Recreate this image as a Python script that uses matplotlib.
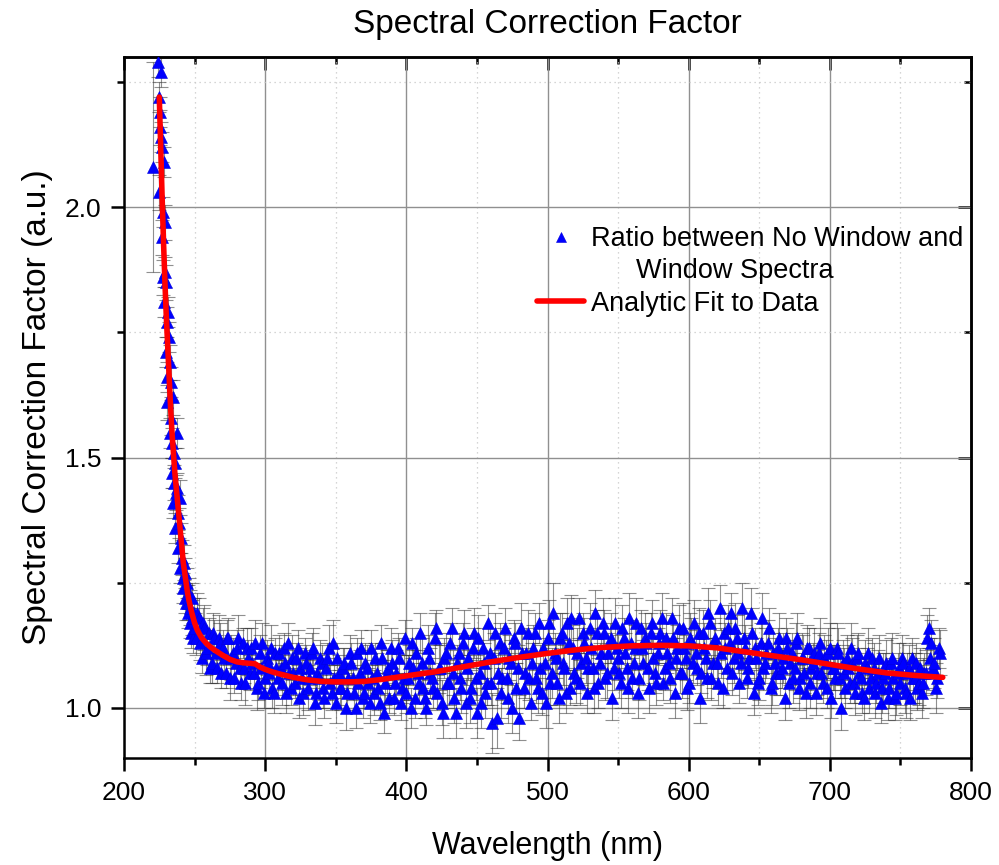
import matplotlib
matplotlib.use('Agg')
import matplotlib.pyplot as plt
import numpy as np
from matplotlib.lines import Line2D
from matplotlib.ticker import MultipleLocator, FormatStrFormatter

plt.rcParams['font.family'] = ['Liberation Sans', 'DejaVu Sans']

# ---------------- data ----------------
steep_wl = [220.8, 224.3, 224.8, 225.0, 225.5, 225.8, 226.0, 226.4, 226.7, 227.0,
            227.4, 227.8, 228.3, 228.6, 229.0, 229.3, 229.6, 229.8, 230.2, 230.5,
            230.8, 231.4, 231.8, 232.3, 232.6, 233.0, 233.5, 233.8, 234.2, 234.6,
            234.9, 235.3, 235.7, 236.1, 236.4, 236.8, 237.3, 237.6, 238.0, 238.5,
            239.0, 239.7, 240.0, 240.5, 241.0, 241.5, 242.0, 242.5, 243.0, 243.5,
            244.0, 244.5, 245.0, 245.5, 246.0, 246.5, 247.0, 247.5, 248.0, 248.5,
            249.0, 249.5]
steep_ratio = [2.08, 2.29, 2.22, 2.03, 2.19, 2.16, 2.27, 2.14, 1.94, 2.12,
               1.99, 1.86, 2.09, 1.81, 1.97, 1.87, 1.71, 1.85, 1.77, 1.66,
               1.61, 1.79, 1.74, 1.69, 1.55, 1.65, 1.58, 1.47, 1.53, 1.62,
               1.41, 1.51, 1.45, 1.49, 1.36, 1.43, 1.55, 1.44, 1.39, 1.32,
               1.37, 1.42, 1.28, 1.34, 1.30, 1.26, 1.24, 1.29, 1.22, 1.27,
               1.21, 1.25, 1.19, 1.21, 1.23, 1.17, 1.20, 1.15, 1.22, 1.18,
               1.14, 1.19]
steep_err = [0.21, 0.03, 0.03, 0.035, 0.03, 0.035, 0.03, 0.03, 0.035, 0.03,
             0.03, 0.035, 0.03, 0.03, 0.035, 0.03, 0.03, 0.035, 0.03, 0.03,
             0.035, 0.03, 0.03, 0.035, 0.03, 0.03, 0.035, 0.03, 0.03, 0.035,
             0.03, 0.03, 0.035, 0.03, 0.03, 0.035, 0.03, 0.03, 0.035, 0.03,
             0.03, 0.035, 0.03, 0.03, 0.035, 0.03, 0.03, 0.035, 0.03, 0.03,
             0.035, 0.03, 0.03, 0.035, 0.03, 0.03, 0.035, 0.03, 0.03, 0.035,
             0.03, 0.03]

# even wavelengths 250 ... 778 nm
even_wl = np.arange(250, 780, 2)
even_ratio = [
    1.16, 1.19, 1.13, 1.17, 1.11, 1.15, 1.09, 1.14, 1.08, 1.13,
    1.12, 1.07, 1.14, 1.10, 1.06, 1.12, 1.08, 1.13, 1.05, 1.10,
    1.12, 1.07, 1.04, 1.11, 1.13, 1.06, 1.09, 1.12, 1.03, 1.08,
    1.11, 1.05, 1.09, 1.13, 1.04, 1.07, 1.10, 1.02, 1.06, 1.11,
    1.04, 1.08, 1.12, 1.03, 1.06, 1.09, 1.02, 1.10, 1.05, 1.13,
    1.01, 1.07, 1.04, 1.09, 1.03, 1.11, 1.06, 1.00, 1.05, 1.12,
    1.03, 1.08, 1.01, 1.06, 1.10, 1.04, 1.13, 0.99, 1.07, 1.02,
    1.09, 1.05, 1.12, 1.01, 1.06, 1.03, 1.09, 1.13, 1.02, 1.07,
    1.15, 1.04, 1.00, 1.10, 1.06, 1.14, 1.03, 1.08, 0.99, 1.11,
    1.05, 1.16, 1.02, 1.09, 1.06, 1.13, 1.01, 1.10, 1.04, 1.15,
    0.99, 1.07, 1.12, 1.03, 1.17, 1.05, 1.10, 0.98, 1.13, 1.06,
    1.16, 1.02, 1.09, 1.14, 1.04, 0.98, 1.11, 1.07, 1.15, 1.01,
    1.12, 1.06, 1.17, 1.03, 1.09, 1.14, 1.05, 1.19, 1.10, 1.02,
    1.15, 1.08, 1.17, 1.04, 1.12, 1.06, 1.18, 1.09, 1.13, 1.03,
    1.16, 1.08, 1.19, 1.05, 1.11, 1.15, 1.07, 1.13, 1.02, 1.17,
    1.10, 1.05, 1.14, 1.08, 1.18, 1.06, 1.12, 1.03, 1.16, 1.09,
    1.13, 1.04, 1.17, 1.07, 1.11, 1.15, 1.05, 1.14, 1.09, 1.18,
    1.03, 1.12, 1.07, 1.16, 1.10, 1.05, 1.13, 1.17, 1.08, 1.02,
    1.15, 1.10, 1.19, 1.06, 1.13, 1.09, 1.20, 1.04, 1.12, 1.16,
    1.19, 1.10, 1.14, 1.05, 1.20, 1.12, 1.08, 1.19, 1.03, 1.10,
    1.06, 1.18, 1.09, 1.13, 1.04, 1.11, 1.07, 1.14, 1.08, 1.02,
    1.12, 1.09, 1.06, 1.13, 1.04, 1.10, 1.07, 1.12, 1.05, 1.09,
    1.03, 1.11, 1.07, 1.10, 1.04, 1.12, 1.08, 1.06, 1.11, 1.00,
    1.07, 1.10, 1.05, 1.09, 1.03, 1.11, 1.06, 1.02, 1.08, 1.04,
    1.10, 1.03, 1.07, 1.01, 1.06, 1.09, 1.04, 1.10, 1.02, 1.07,
    1.05, 1.09, 1.03, 1.08, 1.10, 1.06, 1.04, 1.08, 1.05, 1.07,
    1.16, 1.13, 1.09, 1.06, 1.11]
even_err = [
    0.03, 0.04, 0.035, 0.03, 0.045, 0.03, 0.04, 0.035, 0.03, 0.04,
    0.035, 0.03, 0.04, 0.045, 0.03, 0.035, 0.04, 0.03, 0.045, 0.035,
    0.04, 0.03, 0.045, 0.035, 0.04, 0.03, 0.035, 0.045, 0.04, 0.03,
    0.035, 0.045, 0.03, 0.04, 0.035, 0.045, 0.03, 0.04, 0.035, 0.03,
    0.045, 0.035, 0.04, 0.03, 0.045, 0.035, 0.04, 0.03, 0.035, 0.045,
    0.04, 0.035, 0.045, 0.03, 0.04, 0.035, 0.045, 0.04, 0.03, 0.035,
    0.03, 0.045, 0.04, 0.035, 0.03, 0.045, 0.035, 0.04, 0.045, 0.03,
    0.045, 0.04, 0.03, 0.035, 0.045, 0.04, 0.035, 0.03, 0.04, 0.045,
    0.04, 0.05, 0.035, 0.045, 0.04, 0.05, 0.035, 0.045, 0.05, 0.04,
    0.045, 0.04, 0.05, 0.035, 0.045, 0.04, 0.05, 0.045, 0.035, 0.05,
    0.05, 0.045, 0.04, 0.05, 0.035, 0.045, 0.05, 0.06, 0.04, 0.045,
    0.04, 0.05, 0.045, 0.035, 0.05, 0.045, 0.04, 0.05, 0.045, 0.035,
    0.045, 0.05, 0.04, 0.045, 0.05, 0.035, 0.045, 0.06, 0.04, 0.05,
    0.04, 0.045, 0.05, 0.035, 0.045, 0.05, 0.04, 0.045, 0.05, 0.04,
    0.05, 0.04, 0.045, 0.05, 0.035, 0.045, 0.05, 0.04, 0.045, 0.05,
    0.045, 0.05, 0.04, 0.045, 0.05, 0.04, 0.045, 0.05, 0.035, 0.045,
    0.04, 0.05, 0.045, 0.04, 0.05, 0.045, 0.035, 0.05, 0.045, 0.04,
    0.05, 0.045, 0.04, 0.05, 0.045, 0.04, 0.05, 0.045, 0.035, 0.05,
    0.045, 0.04, 0.05, 0.045, 0.04, 0.05, 0.045, 0.04, 0.05, 0.045,
    0.04, 0.05, 0.045, 0.04, 0.05, 0.045, 0.04, 0.05, 0.045, 0.04,
    0.045, 0.05, 0.04, 0.045, 0.05, 0.04, 0.045, 0.05, 0.04, 0.045,
    0.04, 0.045, 0.05, 0.04, 0.045, 0.05, 0.04, 0.045, 0.05, 0.04,
    0.045, 0.04, 0.05, 0.045, 0.04, 0.05, 0.045, 0.04, 0.05, 0.045,
    0.05, 0.045, 0.04, 0.05, 0.045, 0.04, 0.05, 0.045, 0.04, 0.05,
    0.04, 0.05, 0.045, 0.04, 0.05, 0.045, 0.04, 0.05, 0.045, 0.04,
    0.045, 0.04, 0.05, 0.045, 0.04, 0.05, 0.045, 0.04, 0.05, 0.045,
    0.04, 0.045, 0.05, 0.04, 0.045]

# odd wavelengths 251 ... 777 nm
odd_wl = np.arange(251, 778, 2)
odd_ratio = [
    1.14, 1.18, 1.10, 1.16, 1.12, 1.08, 1.15, 1.11, 1.14, 1.07,
    1.10, 1.14, 1.06, 1.11, 1.09, 1.14, 1.05, 1.08, 1.12, 1.07,
    1.09, 1.13, 1.05, 1.08, 1.03, 1.10, 1.07, 1.04, 1.11, 1.06,
    1.08, 1.12, 1.03, 1.07, 1.10, 1.05, 1.12, 1.08, 1.03, 1.09,
    1.06, 1.11, 1.01, 1.07, 1.10, 1.04, 1.08, 1.12, 1.03, 1.06,
    1.10, 1.04, 1.08, 1.00, 1.06, 1.09, 1.03, 1.11, 1.07, 1.02,
    1.09, 1.05, 1.12, 1.03, 1.07, 1.01, 1.10, 1.05, 1.08, 1.12,
    1.02, 1.07, 1.10, 1.04, 1.14, 1.06, 1.00, 1.08, 1.11, 1.05,
    1.09, 1.02, 1.12, 1.07, 1.04, 1.16, 1.08, 1.01, 1.10, 1.05,
    1.13, 1.07, 0.99, 1.11, 1.04, 1.15, 1.08, 1.02, 1.12, 1.06,
    1.14, 1.01, 1.09, 1.05, 1.11, 0.97, 1.15, 1.07, 1.03, 1.12,
    1.06, 1.10, 1.00, 1.13, 1.08, 1.16, 1.04, 1.11, 1.06, 1.09,
    1.15, 1.04, 1.08, 1.12, 1.01, 1.17, 1.07, 1.11, 1.05, 1.14,
    1.09, 1.03, 1.13, 1.18, 1.07, 1.11, 1.05, 1.15, 1.10, 1.08,
    1.12, 1.04, 1.15, 1.09, 1.17, 1.06, 1.11, 1.14, 1.08, 1.12,
    1.07, 1.16, 1.11, 1.04, 1.13, 1.09, 1.17, 1.06, 1.12, 1.14,
    1.08, 1.15, 1.10, 1.05, 1.13, 1.18, 1.08, 1.11, 1.06, 1.14,
    1.10, 1.16, 1.07, 1.12, 1.04, 1.14, 1.09, 1.11, 1.15, 1.07,
    1.12, 1.06, 1.17, 1.09, 1.14, 1.05, 1.11, 1.15, 1.08, 1.13,
    1.07, 1.16, 1.11, 1.09, 1.14, 1.06, 1.10, 1.15, 1.12, 1.05,
    1.13, 1.08, 1.11, 1.16, 1.05, 1.09, 1.12, 1.07, 1.10, 1.14,
    1.05, 1.11, 1.08, 1.14, 1.06, 1.10, 1.03, 1.12, 1.08, 1.11,
    1.07, 1.13, 1.05, 1.09, 1.11, 1.02, 1.08, 1.12, 1.06, 1.09,
    1.04, 1.08, 1.12, 1.05, 1.10, 1.07, 1.03, 1.09, 1.11, 1.06,
    1.08, 1.05, 1.10, 1.04, 1.07, 1.02, 1.09, 1.06, 1.03, 1.08,
    1.10, 1.04, 1.07, 1.02, 1.06, 1.09, 1.05, 1.03, 1.07, 1.14,
    1.10, 1.08, 1.04, 1.12]
odd_err = [
    0.035, 0.04, 0.03, 0.045, 0.035, 0.03, 0.04, 0.035, 0.045, 0.03,
    0.04, 0.035, 0.045, 0.03, 0.04, 0.045, 0.035, 0.03, 0.04, 0.035,
    0.03, 0.045, 0.035, 0.04, 0.03, 0.035, 0.045, 0.04, 0.03, 0.035,
    0.045, 0.03, 0.04, 0.035, 0.045, 0.03, 0.035, 0.04, 0.045, 0.035,
    0.035, 0.04, 0.045, 0.03, 0.035, 0.04, 0.03, 0.045, 0.035, 0.04,
    0.03, 0.035, 0.04, 0.045, 0.03, 0.04, 0.035, 0.03, 0.045, 0.04,
    0.04, 0.03, 0.035, 0.045, 0.04, 0.035, 0.03, 0.045, 0.035, 0.04,
    0.035, 0.045, 0.04, 0.03, 0.035, 0.045, 0.04, 0.035, 0.03, 0.04,
    0.05, 0.04, 0.045, 0.05, 0.04, 0.035, 0.05, 0.045, 0.04, 0.05,
    0.04, 0.045, 0.05, 0.04, 0.05, 0.045, 0.035, 0.05, 0.04, 0.045,
    0.045, 0.05, 0.04, 0.045, 0.05, 0.06, 0.04, 0.045, 0.05, 0.04,
    0.05, 0.045, 0.05, 0.04, 0.045, 0.05, 0.04, 0.05, 0.045, 0.04,
    0.04, 0.05, 0.045, 0.04, 0.05, 0.045, 0.05, 0.04, 0.045, 0.05,
    0.045, 0.04, 0.05, 0.045, 0.04, 0.05, 0.045, 0.04, 0.05, 0.045,
    0.04, 0.05, 0.045, 0.04, 0.05, 0.045, 0.04, 0.05, 0.045, 0.04,
    0.05, 0.045, 0.04, 0.05, 0.045, 0.04, 0.05, 0.045, 0.04, 0.05,
    0.045, 0.04, 0.05, 0.045, 0.04, 0.05, 0.045, 0.04, 0.05, 0.045,
    0.04, 0.045, 0.05, 0.04, 0.045, 0.05, 0.04, 0.045, 0.05, 0.04,
    0.05, 0.04, 0.045, 0.05, 0.04, 0.045, 0.05, 0.04, 0.045, 0.05,
    0.045, 0.05, 0.04, 0.045, 0.05, 0.04, 0.045, 0.05, 0.04, 0.045,
    0.04, 0.045, 0.05, 0.04, 0.045, 0.05, 0.04, 0.045, 0.05, 0.04,
    0.05, 0.04, 0.045, 0.05, 0.04, 0.045, 0.05, 0.04, 0.045, 0.05,
    0.045, 0.05, 0.04, 0.045, 0.05, 0.04, 0.045, 0.05, 0.04, 0.045,
    0.04, 0.045, 0.05, 0.04, 0.045, 0.05, 0.04, 0.045, 0.05, 0.04,
    0.05, 0.04, 0.045, 0.05, 0.04, 0.045, 0.05, 0.04, 0.045, 0.05,
    0.045, 0.05, 0.04, 0.045, 0.05, 0.04, 0.045, 0.05, 0.04, 0.045,
    0.04, 0.045, 0.05, 0.04]

fit_wl = [225, 226, 227, 228, 229, 230, 231, 232, 233, 234, 235, 236, 237, 238,
          239, 240, 241, 242, 243, 244, 245, 246, 248, 250, 252, 255, 258, 261,
          265, 270, 275, 280, 285, 290, 293, 296, 300, 305, 310, 320, 330, 340,
          350, 360, 370, 380, 390, 400, 420, 440, 460, 480, 500, 520, 540, 560,
          580, 600, 620, 640, 660, 680, 700, 720, 740, 760, 780]
fit_val = [2.22, 2.12, 2.02, 1.93, 1.85, 1.78, 1.72, 1.66, 1.60, 1.55, 1.51, 1.47,
           1.44, 1.41, 1.38, 1.35, 1.32, 1.29, 1.27, 1.25, 1.23, 1.215, 1.19, 1.17,
           1.155, 1.14, 1.13, 1.122, 1.114, 1.105, 1.097, 1.092, 1.090, 1.089,
           1.088, 1.082, 1.077, 1.072, 1.068, 1.061, 1.056, 1.053, 1.052, 1.052,
           1.053, 1.056, 1.060, 1.064, 1.072, 1.082, 1.092, 1.101, 1.109, 1.116,
           1.121, 1.124, 1.125, 1.124, 1.120, 1.112, 1.104, 1.096, 1.087, 1.078,
           1.070, 1.065, 1.061]

x_ticks = [200, 300, 400, 500, 600, 700, 800]
y_ticks = [1.0, 1.5, 2.0]
legend_rows = ['Ratio between No Window and', '      Window Spectra',
               'Analytic Fit to Data']

n_e = min(len(even_ratio), len(even_err), len(even_wl))
n_o = min(len(odd_ratio), len(odd_err), len(odd_wl))
wl = np.concatenate([np.array(steep_wl), even_wl[:n_e], odd_wl[:n_o]])
ratio = np.concatenate([steep_ratio, even_ratio[:n_e], odd_ratio[:n_o]])
err = np.concatenate([steep_err, even_err[:n_e], odd_err[:n_o]])
order = np.argsort(wl, kind='stable')
wl, ratio, err = wl[order], ratio[order], err[order]

# ---------------- figure ----------------
fig = plt.figure(figsize=(9.99, 8.65), dpi=100)
ax = fig.add_axes([124/999, 1-758/865, 847/999, 701/865])

ax.errorbar(wl, ratio, yerr=err, fmt='none', ecolor='#333333', elinewidth=0.8,
            capsize=5, capthick=0.8, alpha=0.55, zorder=2)
pts, = ax.plot(wl, ratio, linestyle='none', marker='^', ms=9, mfc='#0000ff',
               mec='#0000dd', mew=0.4, zorder=3)
fitline, = ax.plot(fit_wl, fit_val, color='#ff0000', lw=4.0, zorder=4,
                   solid_capstyle='round')

ax.set_xlim(200, 800)
ax.set_ylim(0.9, 2.3)
ax.set_xticks(x_ticks)
ax.set_yticks(y_ticks)
ax.xaxis.set_minor_locator(MultipleLocator(50))
ax.yaxis.set_minor_locator(MultipleLocator(0.25))
ax.yaxis.set_major_formatter(FormatStrFormatter('%.1f'))

ax.set_axisbelow(True)
ax.grid(which='major', color='#909090', lw=1.0)
ax.grid(which='minor', color='#c8c8c8', lw=0.9, ls=(0, (1, 3)))

for s in ax.spines.values():
    s.set_linewidth(1.8)

ax.tick_params(which='both', direction='out', width=1.8, labelsize=19,
               top=False, right=False, pad=7)
ax.tick_params(which='major', length=9.5)
ax.tick_params(which='minor', length=5)

# inward ticks on top and right
secx = ax.secondary_xaxis('top')
secy = ax.secondary_yaxis('right')
secx.set_xticks(x_ticks)
secx.xaxis.set_minor_locator(MultipleLocator(50))
secx.set_xticklabels([])
secy.set_yticks(y_ticks)
secy.yaxis.set_minor_locator(MultipleLocator(0.25))
secy.set_yticklabels([])
for sec in (secx, secy):
    sec.tick_params(which='both', direction='in', width=1.8)
    sec.tick_params(which='major', length=9.5)
    sec.tick_params(which='minor', length=5)
    for s in sec.spines.values():
        s.set_linewidth(1.8)

ax.set_title('Spectral Correction Factor', fontsize=24, pad=17)
ax.set_xlabel('Wavelength (nm)', fontsize=22, labelpad=19)
ax.set_ylabel('Spectral Correction Factor (a.u.)', fontsize=24, labelpad=8)

blank = Line2D([], [], linestyle='none', marker='none')
leg = ax.legend([pts, blank, fitline], legend_rows,
                loc='upper left', bbox_to_anchor=(537/999, 1-226/865),
                bbox_transform=fig.transFigure, frameon=False, fontsize=19.5,
                handlelength=1.74, handletextpad=0.26, borderpad=0,
                borderaxespad=0, markerscale=0.75, labelspacing=0.235)

fig.savefig('out.png', dpi=100)
